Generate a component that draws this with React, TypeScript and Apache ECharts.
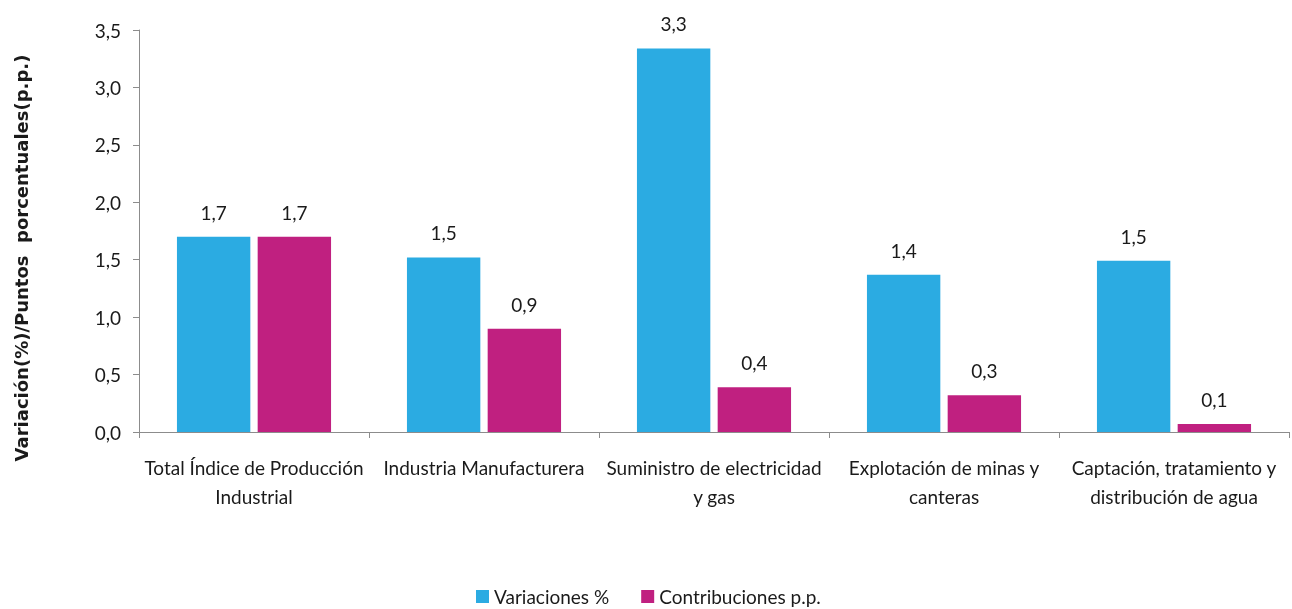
import React, { useEffect, useRef } from "react";
import * as echarts from "echarts";

const categories = [
  "Total Índice de Producción\nIndustrial",
  "Industria Manufacturera",
  "Suministro de electricidad\ny gas",
  "Explotación de minas y\ncanteras",
  "Captación, tratamiento y\ndistribución de agua",
];
const variaciones = [1.7, 1.52, 3.34, 1.37, 1.49];
const contribuciones = [1.7, 0.9, 0.39, 0.32, 0.07];
const seriesNames = ["Variaciones %", "Contribuciones p.p."];
const yAxisName = "Variación(%)/Puntos  porcentuales(p.p.)";

const FONT = "Lato";
const fmt = (v: number) => v.toFixed(1).replace(".", ",");

export default function App() {
  const ref = useRef<HTMLDivElement>(null);
  useEffect(() => {
    if (!ref.current) return;
    const chart = echarts.init(ref.current, undefined, { renderer: "svg" });
    const label = {
      show: true,
      position: "top" as const,
      distance: 15,
      fontFamily: FONT,
      fontSize: 19,
      color: "#1a1a1a",
      formatter: (p: any) => fmt(p.value),
    };
    chart.setOption({
      animation: false,
      textStyle: { fontFamily: FONT },
      grid: { left: 139, right: 3, top: 30, bottom: 177, containLabel: false },
      legend: {
        top: 582,
        left: 471,
        padding: 5,
        itemWidth: 13,
        itemHeight: 13,
        itemGap: 32,
        icon: "rect",
        textStyle: { fontFamily: FONT, fontSize: 19, color: "#1a1a1a" },
        data: seriesNames,
      },
      graphic: [
        {
          type: "text",
          x: 21,
          y: 258,
          rotation: Math.PI / 2,
          style: {
            text: yAxisName,
            fontFamily: "DejaVu Sans",
            fontWeight: "bold",
            fontSize: 18,
            fill: "#1a1a1a",
            align: "center",
            verticalAlign: "middle",
          },
        },
      ],
      xAxis: {
        type: "category",
        data: categories,
        axisLine: { lineStyle: { color: "#8c8c8c" } },
        axisTick: { show: true, length: 6, alignWithLabel: false, lineStyle: { color: "#8c8c8c" } },
        axisLabel: {
          interval: 0,
          margin: 21,
          fontFamily: FONT,
          fontSize: 19,
          lineHeight: 29,
          color: "#1a1a1a",
        },
      },
      yAxis: {
        type: "value",
        min: 0,
        max: 3.5,
        interval: 0.5,
        axisLine: { show: true, lineStyle: { color: "#8c8c8c" } },
        axisTick: { show: true, length: 6, lineStyle: { color: "#8c8c8c" } },
        splitLine: { show: false },
        axisLabel: {
          margin: 18,
          fontFamily: FONT,
          fontSize: 19,
          color: "#1a1a1a",
          formatter: (v: number) => fmt(v),
        },
      },
      series: [
        {
          name: seriesNames[0],
          type: "bar",
          data: variaciones,
          itemStyle: { color: "#2BABE2" },
          barGap: "10%",
          barCategoryGap: "33%",
          label,
        },
        {
          name: seriesNames[1],
          type: "bar",
          data: contribuciones,
          itemStyle: { color: "#C02080" },
          barGap: "10%",
          barCategoryGap: "33%",
          label,
        },
      ],
    });
    return () => chart.dispose();
  }, []);
  return (
    <div
      ref={ref}
      style={{ position: "fixed", left: 0, top: 0, width: 1292, height: 609 }}
    />
  );
}
